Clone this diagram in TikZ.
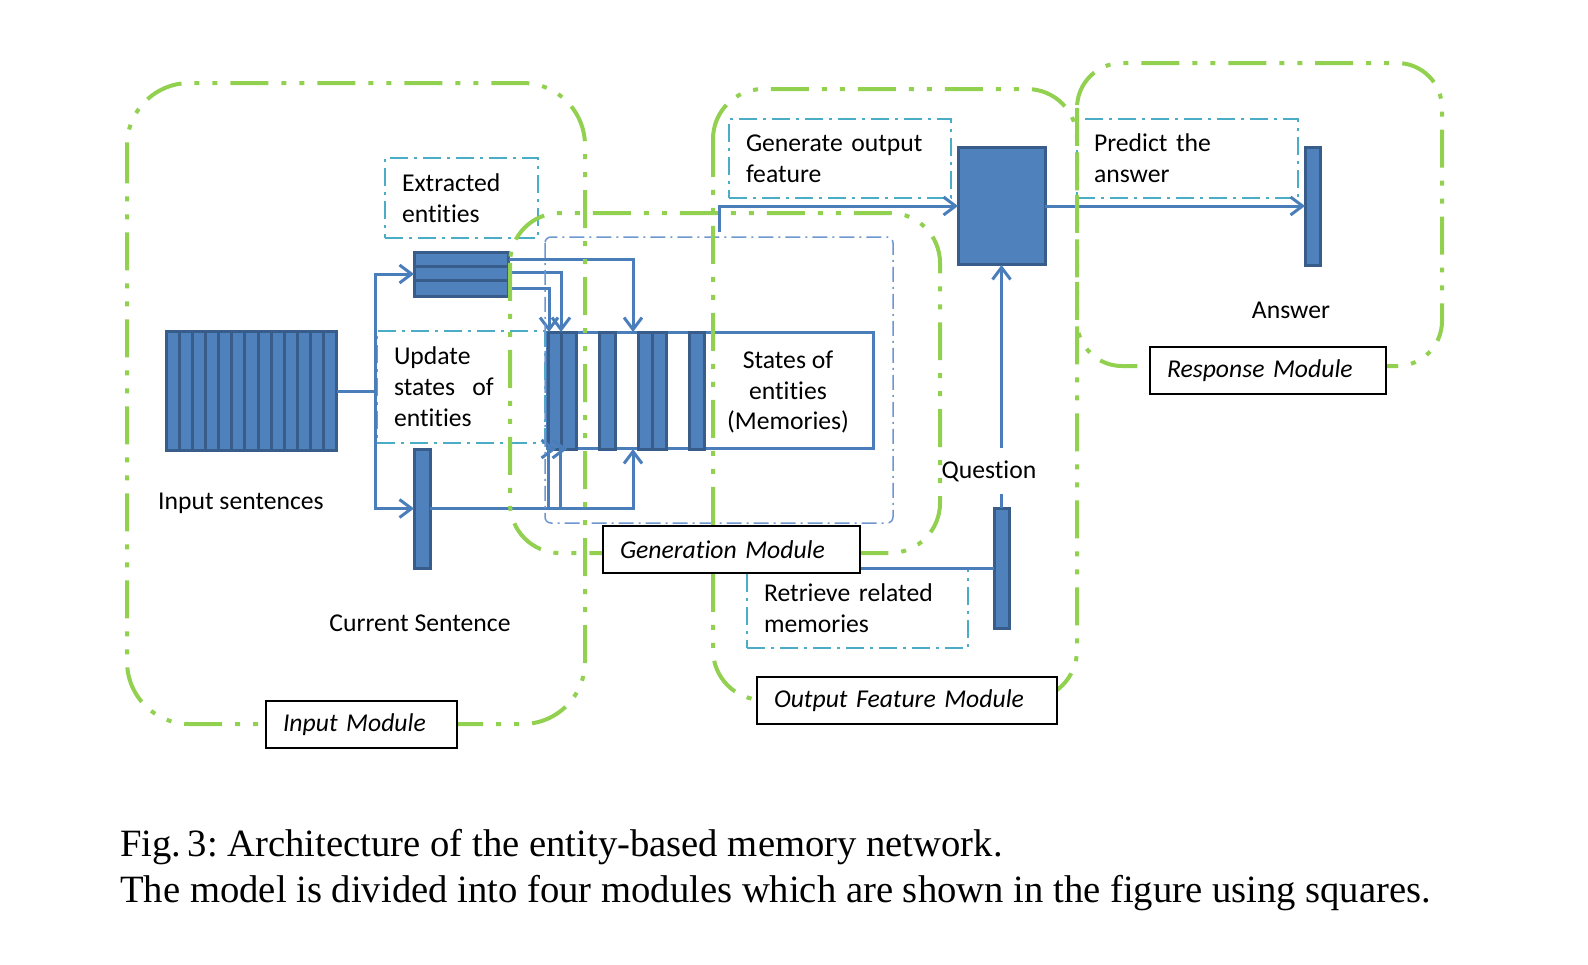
\documentclass[tikz,border=0pt]{standalone}
\usepackage{fontspec}
\setmainfont{Carlito}[Ligatures=NoCommon]
\newfontfamily\capfont{Liberation Serif}
\usetikzlibrary{arrows.meta}
\definecolor{modgreen}{HTML}{92D050}
\definecolor{notecyan}{HTML}{4BACC6}
\definecolor{barblue}{HTML}{4F81BD}
\definecolor{bardark}{HTML}{385D8A}
\definecolor{linkblue}{HTML}{4A7EBB}
\definecolor{genblue}{HTML}{6F97CF}

\begin{document}
\begin{tikzpicture}[x=0.02cm, y=-0.02cm, >={Straight Barb[length=2.4mm,width=3.6mm]},
    font=\fontsize{14.6pt}{17.6pt}\selectfont,
    module/.style={draw=modgreen, line width=0.08cm, dash pattern=on 0.76cm off 0.26cm on 0.1cm off 0.26cm on 0.1cm off 0.26cm},
    note/.style={draw=notecyan, line width=0.04cm, dash pattern=on 0.36cm off 0.12cm on 0.06cm off 0.12cm, align=left, inner xsep=0.34cm, inner ysep=0pt},
    bar/.style={fill=barblue, draw=bardark, line width=0.06cm, inner sep=0pt, outer sep=0pt},
    link/.style={draw=linkblue, line width=0.06cm},
    tag/.style={draw=black, fill=white, line width=0.03cm, font=\fontsize{14.6pt}{17pt}\selectfont\itshape, align=left, inner xsep=0.34cm, inner ysep=0pt, minimum height=0.94cm}]
    \useasboundingbox (0,0) rectangle (1588,964);

    % input module
    \node[bar, minimum width=3.42cm, minimum height=2.4cm] (insent) at (251.5,391) {};
    \foreach \i in {1,...,12}
        \draw[bardark, line width=0.06cm] ({166+\i*171/13},331) -- ++(0,120);
    \node (insenttxt) at (241,503) {Input sentences};
    \node[bar, minimum width=1.9cm, minimum height=0.88cm] (extbar) at (461.5,274) {};
    \foreach \y in {266.5,280.5}
        \draw[bardark, line width=0.07cm] (414,\y) -- (509,\y);
    \node[bar, minimum width=0.32cm, minimum height=2.38cm] (cursent) at (422,508.5) {};
    \node (cursenttxt) at (420,623) {Current Sentence};
    \node[note, text width=2.38cm, minimum height=1.6cm] (extnote) at (461.5,198) {Extracted\\entities};
    \node[note, text width=2.68cm, minimum height=2.24cm] (updnote) at (461,387) {Update\\states\ \ of\\entities};

    \coordinate (split) at (375,391);
    \draw[link] (insent.east) -- (split);
    \draw[link,->] (split) |- (extbar.west);
    \draw[link,->] (split) |- (cursent.west);

    % memories
    \node[draw=linkblue, line width=0.06cm, inner sep=0pt, outer sep=0pt, minimum width=6.54cm, minimum height=2.34cm] (mem) at (710.5,390.5) {};
    \foreach \a/\b in {548/561,561/576,599/615,638/652,652/666,689/704}
        \draw[bar] (\a,332) rectangle (\b,449);
    \node[align=center] (memtxt) at (788,392) {States of\\entities\\(Memories)};

    \draw[link,->] ([yshift=0.3cm]extbar.east) -| ([xshift=1.72cm]mem.north west);
    \draw[link,->] ([yshift=0.04cm]extbar.east) -| ([xshift=0.28cm]mem.north west);
    \draw[link,->] ([yshift=-0.28cm]extbar.east) -| ([xshift=0.04cm]mem.north west);
    \draw[link,->] (cursent.east) -| ([xshift=1.72cm]mem.south west);
    \coordinate (up1) at (548,508.5);
    \coordinate (up2) at (560,508.5);
    \draw[link,->] (up1) |- ([xshift=0.18cm]mem.south west);
    \draw[link,->] (up2) |- ([xshift=0.4cm]mem.south west);

    \draw[genblue, line width=0.03cm, rounded corners=0.12cm, dash pattern=on 0.3cm off 0.1cm on 0.04cm off 0.1cm] (545,237) rectangle (893,523);

    % output feature
    \node[bar, minimum width=1.74cm, minimum height=2.36cm] (outblk) at (1001.5,206) {};
    \node[note, text width=3.76cm, minimum height=1.58cm] (gennote) at (840,158.5) {Generate output\\feature};
    \node[bar, minimum width=0.3cm, minimum height=2.4cm] (qbar) at (1001.5,568) {};
    \node[note, text width=3.74cm, minimum height=1.6cm] (retnote) at (857.5,608) {Retrieve related\\memories};
    \coordinate (gtop) at (719,232);
    \draw[link,->] (gtop) |- (outblk.west);
    \draw[link,->] (qbar.north) -- (outblk.south);
    \node[fill=white, inner xsep=1pt, inner ysep=0.25cm] (qtxt) at (989,471) {Question};
    \coordinate (genright) at (860,568);
    \draw[link] (qbar.west) -- (genright);

    % response
    \node[bar, minimum width=0.3cm, minimum height=2.38cm] (ansbar) at (1312.5,206.5) {};
    \node (anstxt) at (1291,310) {Answer};
    \node[note, text width=3.74cm, minimum height=1.58cm] (prednote) at (1187.5,158.5) {Predict the\\answer};
    \draw[link,->] (outblk.east) -- (outblk.east -| ansbar.west);

    % modules
    \draw[module, rounded corners=1.25cm] (127,83) rectangle (585,724);
    \draw[module, rounded corners=1cm] (510,213) rectangle (940,553);
    \draw[module, rounded corners=1cm] (713,89) rectangle (1077,700);
    \draw[module, rounded corners=0.9cm] (1077,63) rectangle (1442,366);
    \node[tag, text width=3.14cm] (inmod) at (361.5,724.5) {Input Module};
    \node[tag, text width=4.46cm] (genmod) at (731.5,549.5) {Generation Module};
    \node[tag, text width=5.32cm] (outmod) at (907,700.5) {Output Feature Module};
    \node[tag, text width=4.04cm] (resmod) at (1268,370.5) {Response Module};

    % caption
    \node[anchor=base west, inner sep=0pt, font=\capfont\frenchspacing\fontsize{22pt}{26pt}\selectfont] (cap1) at (120,856) {Fig.\,3: Architecture of the entity-based memory network.};
    \node[anchor=base west, inner sep=0pt, font=\capfont\frenchspacing\fontsize{22pt}{26pt}\selectfont] (cap2) at (120,902) {The model is divided into four modules which are shown in the figure using squares.};
\end{tikzpicture}
\end{document}
